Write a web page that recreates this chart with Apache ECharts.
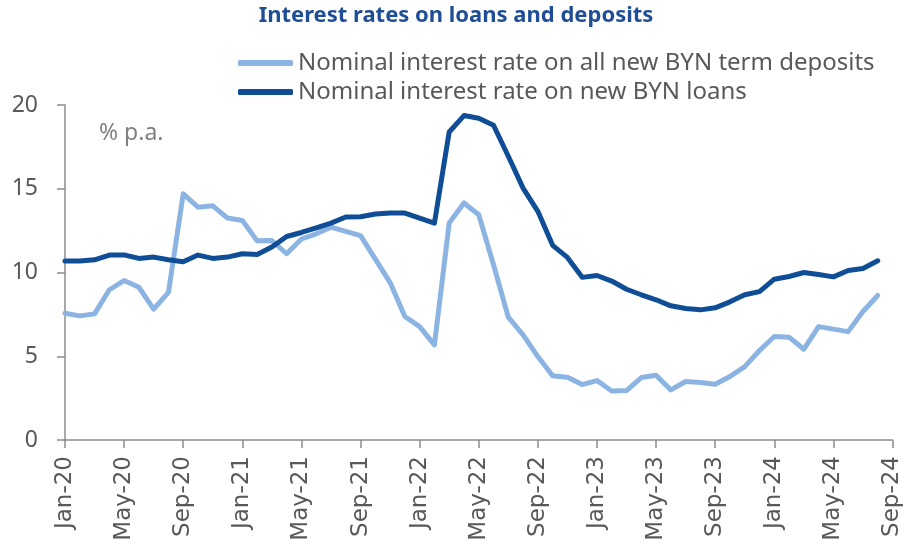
<!DOCTYPE html>
<html>
<head>
<meta charset="utf-8">
<script src="https://cdn.jsdelivr.net/npm/echarts@6/dist/echarts.min.js"></script>
<style>
  html, body { margin: 0; padding: 0; background: #ffffff; }
  #chart { width: 904px; height: 548px; }
</style>
</head>
<body>
<div id="chart"></div>
<script>
// Monthly categories, Jan-20 .. Sep-24
const months = [
  'Jan-20','Feb-20','Mar-20','Apr-20','May-20','Jun-20','Jul-20','Aug-20','Sep-20','Oct-20','Nov-20','Dec-20',
  'Jan-21','Feb-21','Mar-21','Apr-21','May-21','Jun-21','Jul-21','Aug-21','Sep-21','Oct-21','Nov-21','Dec-21',
  'Jan-22','Feb-22','Mar-22','Apr-22','May-22','Jun-22','Jul-22','Aug-22','Sep-22','Oct-22','Nov-22','Dec-22',
  'Jan-23','Feb-23','Mar-23','Apr-23','May-23','Jun-23','Jul-23','Aug-23','Sep-23','Oct-23','Nov-23','Dec-23',
  'Jan-24','Feb-24','Mar-24','Apr-24','May-24','Jun-24','Jul-24','Aug-24','Sep-24'
];

// Nominal interest rate on all new BYN term deposits, % p.a.
const depositRates = [
  7.57, 7.41, 7.53, 8.97, 9.52, 9.12, 7.81, 8.81, 14.70, 13.90, 13.98, 13.25,
  13.11, 11.89, 11.91, 11.12, 12.00, 12.31, 12.71, 12.45, 12.20, 10.80, 9.40, 7.37,
  6.77, 5.68, 12.95, 14.15, 13.45, 10.46, 7.33, 6.28, 4.98, 3.83, 3.75, 3.31,
  3.55, 2.93, 2.95, 3.73, 3.87, 2.99, 3.49, 3.43, 3.33, 3.79, 4.38, 5.34,
  6.18, 6.14, 5.42, 6.77, 6.62, 6.47, 7.67, 8.63
];

// Nominal interest rate on new BYN loans, % p.a.
const loanRates = [
  10.68, 10.68, 10.76, 11.04, 11.05, 10.84, 10.92, 10.76, 10.64, 11.04, 10.84, 10.92,
  11.12, 11.08, 11.52, 12.15, 12.39, 12.67, 12.95, 13.31, 13.33, 13.49, 13.55, 13.55,
  13.25, 12.95, 18.39, 19.37, 19.21, 18.79, 16.94, 15.04, 13.65, 11.62, 10.90, 9.71,
  9.82, 9.49, 9.00, 8.67, 8.37, 8.01, 7.85, 7.77, 7.89, 8.25, 8.67, 8.86,
  9.60, 9.76, 10.00, 9.88, 9.74, 10.12, 10.24, 10.70
];

const seriesNames = [
  'Nominal interest rate on all new BYN term deposits',
  'Nominal interest rate on new BYN loans'
];
const titleText = 'Interest rates on loans and deposits';
const unitText = '% p.a.';

const chart = echarts.init(document.getElementById('chart'), null, { renderer: 'canvas' });

chart.setOption({
  animation: false,
  backgroundColor: '#ffffff',
  graphic: [
    {
      type: 'text',
      x: 456, y: 5,
      style: {
        text: titleText,
        fontFamily: 'Noto Sans',
        fontWeight: 'bold',
        fontSize: 22,
        fill: '#1F4E96',
        align: 'center',
        textAlign: 'center'
      }
    },
    {
      type: 'text',
      left: 99, top: 122,
      style: {
        text: unitText,
        fontFamily: 'Noto Sans',
        fontSize: 23,
        fill: '#808080'
      }
    }
  ],
  legend: {
    orient: 'vertical',
    left: 238,
    top: 51,
    padding: 0,
    itemWidth: 55,
    itemHeight: 6,
    itemGap: 5,
    icon: 'roundRect',
    textStyle: {
      fontFamily: 'Noto Sans',
      fontSize: 24,
      lineHeight: 24,
      color: '#595959',
      padding: [0, 0, 0, 0]
    },
    data: seriesNames
  },
  grid: {
    left: 65,
    right: 11,
    top: 105,
    bottom: 108,
    containLabel: false
  },
  xAxis: {
    type: 'category',
    data: months,
    boundaryGap: false,
    axisLine: { show: true, lineStyle: { color: '#8C8C8C', width: 1.5 } },
    axisTick: { show: true, interval: 3, length: 8, lineStyle: { color: '#8C8C8C', width: 1.5 } },
    axisLabel: {
      interval: 3,
      rotate: 90,
      margin: 16,
      fontFamily: 'DejaVu Sans',
      fontSize: 23,
      color: '#595959'
    },
    splitLine: { show: false }
  },
  yAxis: {
    type: 'value',
    min: 0,
    max: 20,
    interval: 5,
    axisLine: { show: true, lineStyle: { color: '#8C8C8C', width: 1.5 } },
    axisTick: { show: true, length: 8, lineStyle: { color: '#8C8C8C', width: 1.5 } },
    axisLabel: {
      margin: 27,
      fontFamily: 'Noto Sans',
      fontSize: 23,
      color: '#595959'
    },
    splitLine: { show: false }
  },
  series: [
    {
      name: seriesNames[0],
      type: 'line',
      data: depositRates,
      showSymbol: false,
      symbol: 'none',
      color: '#8BB4E3',
      lineStyle: { width: 5, color: '#8BB4E3', cap: 'round', join: 'round' },
      z: 2
    },
    {
      name: seriesNames[1],
      type: 'line',
      data: loanRates,
      showSymbol: false,
      symbol: 'none',
      color: '#0F4E96',
      lineStyle: { width: 5, color: '#0F4E96', cap: 'round', join: 'round' },
      z: 3
    }
  ]
});
</script>
</body>
</html>
